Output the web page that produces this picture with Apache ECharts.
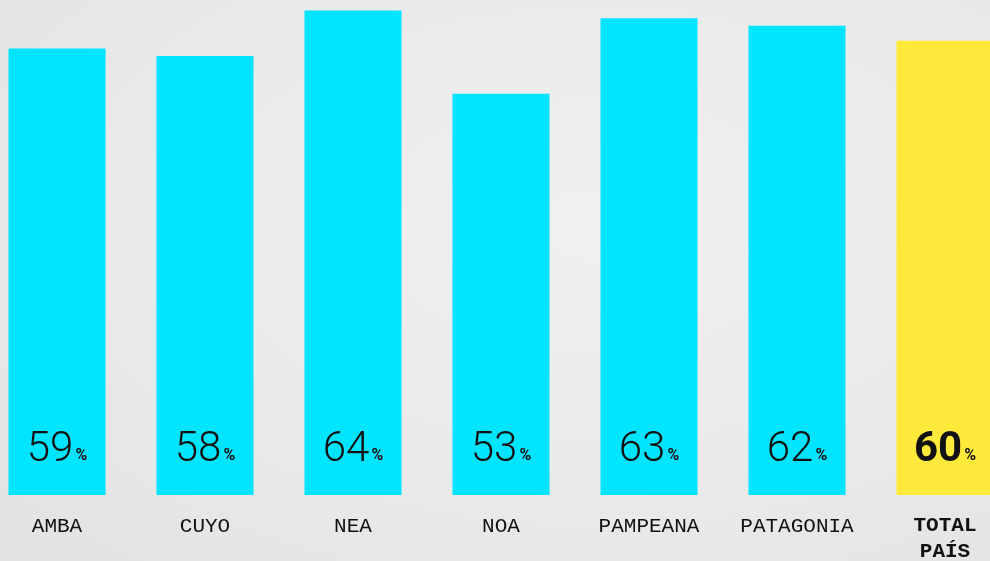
<!DOCTYPE html>
<html>
<head>
<meta charset="utf-8">
<script src="https://cdn.jsdelivr.net/npm/echarts@6/dist/echarts.min.js"></script>
<style>
    html, body { margin: 0; padding: 0; }
    #chart {
        width: 990px;
        height: 561px;
        background: radial-gradient(ellipse at 60% 40%, #f0f0f0 0%, #e9e9e9 60%, #e2e2e2 100%);
    }
</style>
</head>
<body>
<div id="chart"></div>
<script>
    // regiones
    var regions = ['AMBA', 'CUYO', 'NEA', 'NOA', 'PAMPEANA', 'PATAGONIA', 'TOTAL\nPAÍS']
    // porcentaje por región
    var values = [59, 58, 64, 53, 63, 62, 60]

    var cyan = '#00e5ff'
    var yellow = '#ffea3b'

    var chart = echarts.init(document.getElementById('chart'))

    var data = values.map(function (v, i) {
        var isTotal = i === values.length - 1
        return {
            value: v,
            itemStyle: { color: isTotal ? yellow : cyan },
            label: {
                formatter: isTotal ? '{b|{c}}{p|%}' : '{n|{c}}{p|%}'
            }
        }
    })

    chart.setOption({
        animation: false,
        grid: {
            left: -17,
            width: 1036,
            top: 3,
            bottom: 66,
            containLabel: false,
            outerBoundsMode: 'none'
        },
        xAxis: {
            type: 'category',
            data: regions,
            axisLine: { show: false },
            axisTick: { show: false },
            axisLabel: {
                margin: 18,
                fontFamily: 'Liberation Mono',
                fontSize: 21,
                color: '#111',
                lineHeight: 26,
                formatter: function (value) {
                    return value.indexOf('\n') > -1 ? '{t|' + value.replace('\n', '}\n{t|') + '}' : value
                },
                rich: {
                    t: {
                        fontFamily: 'Liberation Mono',
                        fontSize: 21,
                        fontWeight: 'bold',
                        color: '#111',
                        lineHeight: 26
                    }
                }
            }
        },
        yAxis: {
            type: 'value',
            min: 0,
            max: 65,
            show: false,
            splitLine: { show: false }
        },
        series: [{
            type: 'bar',
            data: data,
            barWidth: 97,
            label: {
                show: true,
                position: 'insideBottom',
                distance: 24,
                rich: {
                    n: {
                        fontFamily: 'Roboto',
                        fontWeight: 300,
                        fontSize: 42,
                        color: '#111'
                    },
                    b: {
                        fontFamily: 'Roboto',
                        fontWeight: 'bold',
                        fontSize: 42,
                        color: '#111'
                    },
                    p: {
                        fontFamily: 'Roboto',
                        fontWeight: 'bold',
                        fontSize: 16,
                        color: '#111',
                        padding: [12, 0, 0, 2]
                    }
                }
            }
        }]
    })
</script>
</body>
</html>
